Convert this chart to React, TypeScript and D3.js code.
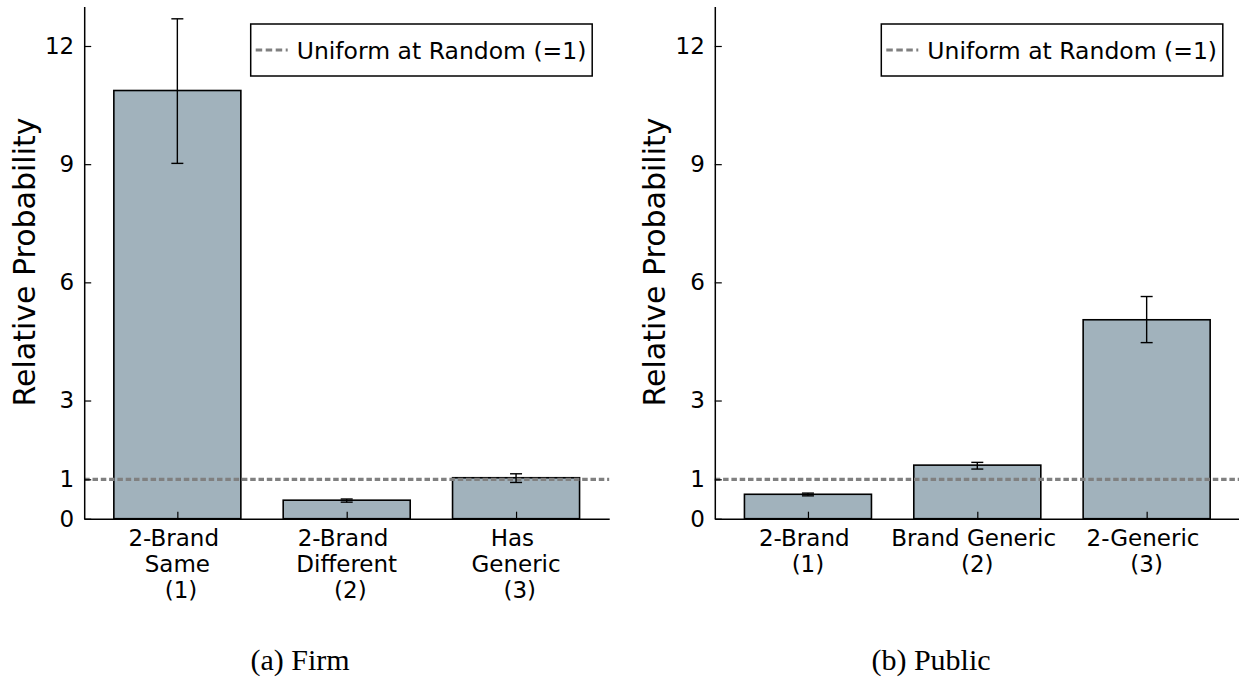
import { useEffect, useRef } from 'react';
import * as d3 from 'd3';

// (a) Firm
const firmLabels = [
  ['2-Brand ', 'Same', ' (1)'],
  ['2-Brand ', 'Different', ' (2)'],
  ['Has ', 'Generic', ' (3)'],
];
const firmValues = [10.87, 0.47, 1.04];
const firmLow = [9.02, 0.42, 0.92];
const firmHigh = [12.69, 0.5, 1.14];

// (b) Public
const publicLabels = [
  ['2-Brand ', '(1)'],
  ['Brand Generic ', '(2)'],
  ['2-Generic ', '(3)'],
];
const publicValues = [0.62, 1.36, 5.05];
const publicLow = [0.58, 1.26, 4.47];
const publicHigh = [0.65, 1.43, 5.64];

const yTicks = [0, 1, 3, 6, 9, 12];
const uniformLevel = 1;
const legendLabel = 'Uniform at Random (=1)';
const yLabel = 'Relative Probability';
const captions = ['(a) Firm', '(b) Public'];

const WIDTH = 1239;
const HEIGHT = 677;
const BAR_COLOR = '#a1b2bc';
const REF_COLOR = '#808080';
const FONT = '"DejaVu Sans", sans-serif';

type Panel = {
  left: number;
  labels: string[][];
  values: number[];
  low: number[];
  high: number[];
  caption: string;
  captionX: number;
};

const panels: Panel[] = [
  { left: 84.2, labels: firmLabels, values: firmValues, low: firmLow, high: firmHigh, caption: captions[0], captionX: 300 },
  { left: 714.8, labels: publicLabels, values: publicValues, low: publicLow, high: publicHigh, caption: captions[1], captionX: 931 },
];

function drawPanel(svg: d3.Selection<SVGSVGElement, unknown, null, undefined>, panel: Panel) {
  const axisWidth = 525;
  const x = d3.scaleLinear().domain([-0.55, 2.55]).range([panel.left, panel.left + axisWidth]);
  const y = d3.scaleLinear().domain([0, 13]).range([518.7, 6.6]);
  const barHalf = 0.375;
  const idx = panel.values.map((_, i) => i);

  const g = svg.append('g');

  // bars
  g.selectAll('rect.bar')
    .data(idx)
    .join('rect')
    .attr('class', 'bar')
    .attr('x', (i) => x(i - barHalf))
    .attr('width', (i) => x(i + barHalf) - x(i - barHalf))
    .attr('y', (i) => y(panel.values[i]))
    .attr('height', (i) => y(0) - y(panel.values[i]))
    .attr('fill', BAR_COLOR)
    .attr('stroke', '#000')
    .attr('stroke-width', 1.6);

  // reference line at 1
  g.append('line')
    .attr('x1', x.range()[0])
    .attr('x2', x.range()[1])
    .attr('y1', y(uniformLevel))
    .attr('y2', y(uniformLevel))
    .attr('stroke', REF_COLOR)
    .attr('stroke-width', 3.2)
    .attr('stroke-dasharray', '5.5 2.8');

  // error bars
  const capHalf = 6;
  const err = g.selectAll('g.err').data(idx).join('g').attr('class', 'err');
  err.append('line')
    .attr('x1', (i) => x(i))
    .attr('x2', (i) => x(i))
    .attr('y1', (i) => y(panel.low[i]))
    .attr('y2', (i) => y(panel.high[i]));
  err.append('line')
    .attr('x1', (i) => x(i) - capHalf)
    .attr('x2', (i) => x(i) + capHalf)
    .attr('y1', (i) => y(panel.low[i]))
    .attr('y2', (i) => y(panel.low[i]));
  err.append('line')
    .attr('x1', (i) => x(i) - capHalf)
    .attr('x2', (i) => x(i) + capHalf)
    .attr('y1', (i) => y(panel.high[i]))
    .attr('y2', (i) => y(panel.high[i]));
  err.selectAll('line').attr('stroke', '#000').attr('stroke-width', 1.4);

  // axes
  const yAxis = d3.axisLeft(y).tickValues(yTicks).tickSizeInner(-7).tickSizeOuter(0).tickPadding(10).tickFormat(d3.format('d'));
  const yAxisG = g.append('g').attr('transform', `translate(${panel.left},0)`).call(yAxis);
  const xAxis = d3.axisBottom(x).tickValues(idx).tickSizeInner(-7).tickSizeOuter(0).tickFormat(() => '');
  const xAxisG = g.append('g').attr('transform', `translate(0,${y(0)})`).call(xAxis);
  [yAxisG, xAxisG].forEach((ax) => {
    ax.select('.domain').attr('stroke', '#000').attr('stroke-width', 1.5);
    ax.selectAll('.tick line').attr('stroke', '#000').attr('stroke-width', 1.2);
  });
  yAxisG.selectAll('.tick text')
    .attr('font-family', FONT)
    .attr('font-size', 23)
    .attr('fill', '#000');

  // multi-line category labels
  const labelG = g.selectAll('text.cat').data(idx).join('text')
    .attr('class', 'cat')
    .attr('font-family', FONT)
    .attr('font-size', 23)
    .attr('text-anchor', 'middle')
    .style('white-space', 'pre');
  labelG.selectAll('tspan')
    .data((i) => panel.labels[i].map((t) => ({ t, i })))
    .join('tspan')
    .attr('x', (d) => x(d.i))
    .attr('y', (_, k) => 546 + k * 26)
    .text((d) => d.t);

  // y label
  g.append('text')
    .attr('transform', `translate(${panel.left - 60},262) rotate(-90)`)
    .attr('text-anchor', 'middle')
    .attr('dominant-baseline', 'central')
    .attr('font-family', FONT)
    .attr('font-size', 30)
    .text(yLabel);

  // legend
  const lx = panel.left + 166.5;
  const legend = g.append('g').attr('transform', `translate(${lx},24)`);
  legend.append('rect')
    .attr('width', 341.5)
    .attr('height', 52)
    .attr('fill', '#fff')
    .attr('stroke', '#000')
    .attr('stroke-width', 1.5);
  legend.append('line')
    .attr('x1', 5)
    .attr('x2', 37)
    .attr('y1', 26)
    .attr('y2', 26)
    .attr('stroke', REF_COLOR)
    .attr('stroke-width', 3.2)
    .attr('stroke-dasharray', '6.5 3.5');
  legend.append('text')
    .attr('x', 46)
    .attr('y', 34.5)
    .attr('font-family', FONT)
    .attr('font-size', 23.5)
    .text(legendLabel);

  // caption
  svg.append('text')
    .attr('x', panel.captionX)
    .attr('y', 670)
    .attr('text-anchor', 'middle')
    .attr('font-family', '"Liberation Serif", serif')
    .attr('font-size', 30)
    .text(panel.caption);
}

export default function App() {
  const svgRef = useRef<SVGSVGElement | null>(null);

  useEffect(() => {
    if (!svgRef.current) return;
    const svg = d3.select(svgRef.current);
    svg.selectAll('*').remove();
    svg.append('rect').attr('width', WIDTH).attr('height', HEIGHT).attr('fill', '#fff');
    panels.forEach((p) => drawPanel(svg, p));
  }, []);

  return (
    <svg
      ref={svgRef}
      width={WIDTH}
      height={HEIGHT}
      viewBox={`0 0 ${WIDTH} ${HEIGHT}`}
      style={{ position: 'absolute', left: 0, top: 0, display: 'block' }}
    />
  );
}
